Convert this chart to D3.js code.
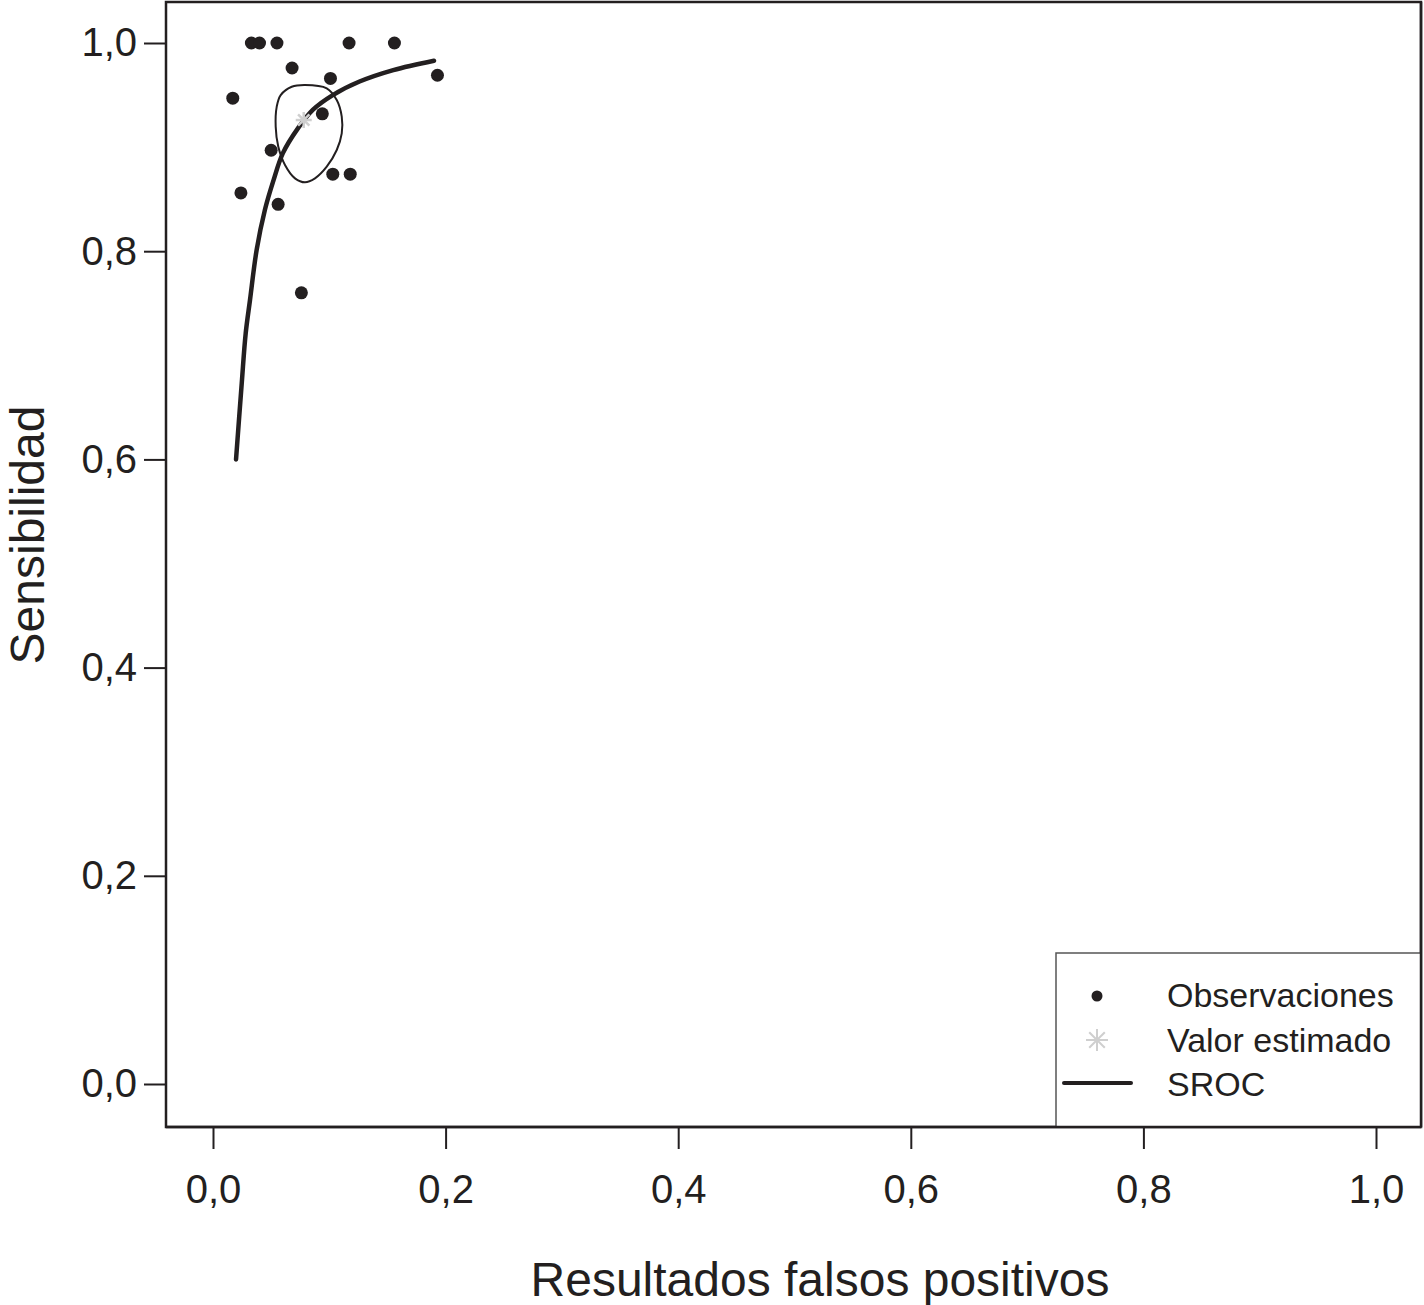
<!DOCTYPE html>
<html>
<head>
  <script src="https://d3js.org/d3.v7.min.js"></script>
  <style>
    body { margin: 0; background: #fff; }
    svg { display: block; }
    .tick text { fill: #231f20; font-family: "Liberation Sans", Arial, Helvetica, sans-serif; font-size: 40px; }
    .tick line { stroke: #231f20; stroke-width: 2px; }
    .title { fill: #231f20; font-family: "Liberation Sans", Arial, Helvetica, sans-serif; font-size: 48px; }
    .leg { fill: #231f20; font-family: "Liberation Sans", Arial, Helvetica, sans-serif; font-size: 34px; }
  </style>
</head>
<body>
  <svg id="chart"></svg>
  <script>
    // observed studies (false positive rate, sensitivity)
    var obsFpr  = [0.033, 0.040, 0.055, 0.117, 0.156, 0.068, 0.101, 0.193, 0.017, 0.094, 0.050, 0.103, 0.118, 0.024, 0.056, 0.076];
    var obsSens = [1.000, 1.000, 1.000, 1.000, 1.000, 0.976, 0.966, 0.969, 0.947, 0.932, 0.897, 0.874, 0.874, 0.856, 0.845, 0.760];

    // summary estimate
    var estFpr = 0.078, estSens = 0.926;

    // SROC curve
    var srocFpr  = [0.0198, 0.0247, 0.0281, 0.0318, 0.0375, 0.0447, 0.052, 0.060, 0.073, 0.086, 0.103, 0.126, 0.155, 0.190];
    var srocSens = [0.600, 0.673, 0.721, 0.753, 0.801, 0.840, 0.868, 0.894, 0.918, 0.936, 0.950, 0.963, 0.974, 0.983];

    // confidence region outline
    var regFpr  = [0.0791, 0.0978, 0.1064, 0.1107, 0.1107, 0.1064, 0.0978, 0.0877, 0.0791, 0.0705, 0.0619, 0.0561, 0.0539, 0.0548, 0.0582, 0.0677];
    var regSens = [0.9597, 0.9565, 0.9452, 0.9292, 0.9132, 0.8972, 0.8812, 0.8700, 0.8662, 0.8700, 0.8828, 0.9005, 0.9197, 0.9389, 0.9500, 0.9580];

    var ticks = [0, 0.2, 0.4, 0.6, 0.8, 1.0];
    var legendLabels = ["Observaciones", "Valor estimado", "SROC"];

    var W = 1424, H = 1305;
    var box = { left: 166, top: 2, right: 1421, bottom: 1127 };

    var svg = d3.select("#chart").attr("width", W).attr("height", H);

    var x = d3.scaleLinear().domain([0, 1]).range([213, 1376]);
    var y = d3.scaleLinear().domain([0, 1]).range([1084, 43]);

    var fmt = function(d) { return d3.format(".1f")(d).replace(".", ","); };

    // plot frame
    svg.append("rect")
      .attr("x", box.left).attr("y", box.top)
      .attr("width", box.right - box.left).attr("height", box.bottom - box.top)
      .attr("fill", "none").attr("stroke", "#231f20").attr("stroke-width", 2.5);

    var xAxis = svg.append("g")
      .attr("transform", "translate(0," + box.bottom + ")")
      .call(d3.axisBottom(x).tickValues(ticks).tickFormat(fmt).tickSize(22).tickPadding(26));
    xAxis.select(".domain").remove();

    var yAxis = svg.append("g")
      .attr("transform", "translate(" + box.left + ",0)")
      .call(d3.axisLeft(y).tickValues(ticks).tickFormat(fmt).tickSize(22).tickPadding(7));
    yAxis.select(".domain").remove();

    // titles
    svg.append("text").attr("class", "title")
      .attr("x", 820).attr("y", 1296).attr("text-anchor", "middle")
      .text("Resultados falsos positivos");
    svg.append("text").attr("class", "title")
      .attr("transform", "translate(44,535) rotate(-90)").attr("text-anchor", "middle")
      .text("Sensibilidad");

    // confidence region
    var region = d3.range(regFpr.length).map(function(i) { return [x(regFpr[i]), y(regSens[i])]; });
    svg.append("path")
      .attr("d", d3.line().curve(d3.curveCatmullRomClosed.alpha(0.5))(region))
      .attr("fill", "none").attr("stroke", "#231f20").attr("stroke-width", 2);

    // SROC curve
    var sroc = d3.range(srocFpr.length).map(function(i) { return [x(srocFpr[i]), y(srocSens[i])]; });
    svg.append("path")
      .attr("d", d3.line().curve(d3.curveCatmullRom.alpha(0.5))(sroc))
      .attr("fill", "none").attr("stroke", "#231f20").attr("stroke-width", 4.5)
      .attr("stroke-linecap", "round");

    // observations
    svg.selectAll("circle.obs")
      .data(d3.range(obsFpr.length))
      .join("circle")
      .attr("class", "obs")
      .attr("cx", function(i) { return x(obsFpr[i]); })
      .attr("cy", function(i) { return y(obsSens[i]); })
      .attr("r", 6.5)
      .attr("fill", "#231f20");

    function asterisk(g, cx, cy, r, w) {
      [0, 45, 90, 135].forEach(function(a) {
        var rad = a * Math.PI / 180;
        g.append("line")
          .attr("x1", cx - r * Math.cos(rad)).attr("y1", cy - r * Math.sin(rad))
          .attr("x2", cx + r * Math.cos(rad)).attr("y2", cy + r * Math.sin(rad))
          .attr("stroke", "#cfcfcf").attr("stroke-width", w);
      });
    }

    asterisk(svg.append("g"), x(estFpr), y(estSens), 8, 2.5);

    // legend
    var leg = svg.append("g");
    leg.append("rect")
      .attr("x", 1056).attr("y", 953)
      .attr("width", box.right - 1056).attr("height", box.bottom - 953)
      .attr("fill", "#fff").attr("stroke", "#555").attr("stroke-width", 1.5);
    leg.append("circle").attr("cx", 1097).attr("cy", 996).attr("r", 5.5).attr("fill", "#231f20");
    asterisk(leg.append("g"), 1097, 1040, 11, 2);
    leg.append("line").attr("x1", 1064).attr("x2", 1131).attr("y1", 1083).attr("y2", 1083)
      .attr("stroke", "#231f20").attr("stroke-width", 4).attr("stroke-linecap", "round");
    leg.selectAll("text")
      .data(legendLabels)
      .join("text")
      .attr("class", "leg")
      .attr("x", 1167)
      .attr("y", function(d, i) { return 1007 + i * 44.5; })
      .text(function(d) { return d; });

    // redraw right frame edge over legend
    svg.append("line")
      .attr("x1", box.right).attr("x2", box.right).attr("y1", box.top).attr("y2", box.bottom)
      .attr("stroke", "#231f20").attr("stroke-width", 2.5);
    svg.append("line")
      .attr("x1", box.left).attr("x2", box.right).attr("y1", box.bottom).attr("y2", box.bottom)
      .attr("stroke", "#231f20").attr("stroke-width", 2.5);
  </script>
</body>
</html>
